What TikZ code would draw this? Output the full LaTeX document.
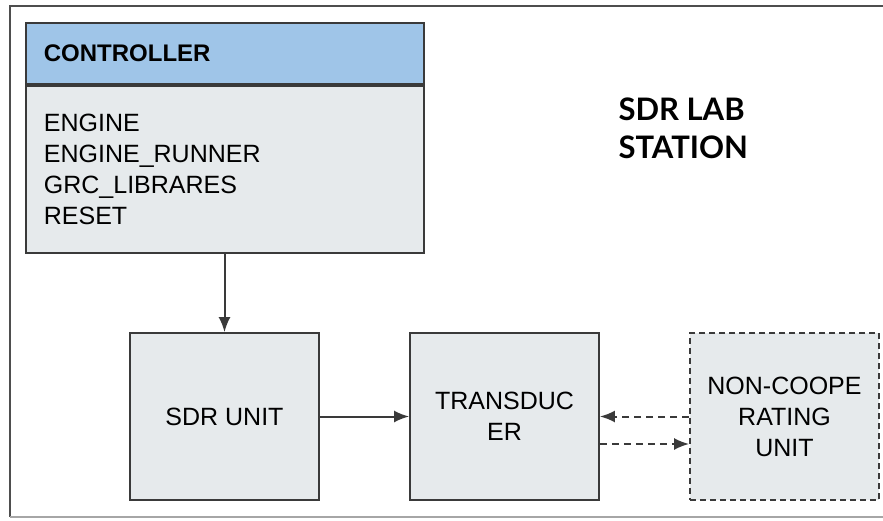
\documentclass[tikz,border=0pt]{standalone}
\usepackage{fontspec}
\setmainfont{Liberation Sans}
\newfontfamily\titlefont{Lato}
\usepackage{tikz}
\usetikzlibrary{positioning,arrows.meta}

\definecolor{headblue}{HTML}{9FC5E8}
\definecolor{boxgray}{HTML}{E6EAEC}
\definecolor{edgegray}{HTML}{3A3A3A}

\begin{document}
\begin{tikzpicture}[x=1pt,y=-1pt,node distance=280pt,on grid,
    block/.style={draw=edgegray,line width=1.8pt,fill=boxgray,
        minimum width=189pt,minimum height=167pt,align=center,
        font=\fontsize{25}{31}\selectfont},
    link/.style={-{Latex[length=15pt,width=12pt]},line width=2pt,draw=edgegray}]
    \useasboundingbox (0,0) rectangle (883,521);
    % station frame, open on the right
    \draw[line width=2pt,draw=edgegray!90] (883,6) -- (10,6) -- (10,517);
    \draw[line width=1.6pt,draw=gray!70] (10,517) -- (883,517);

    % controller: header and module list
    \node[draw=edgegray,line width=1.8pt,fill=headblue,anchor=north west,
        minimum width=398pt,minimum height=61pt,inner xsep=18pt,
        text width=362pt,align=left,font=\fontsize{24}{30}\selectfont\bfseries]
        (ctrlhead) at (25,22) {CONTROLLER};
    \node[draw=edgegray,line width=1.8pt,fill=boxgray,anchor=north,
        minimum width=398pt,minimum height=167pt,inner xsep=18pt,
        text width=362pt,align=left,font=\fontsize{25}{31}\selectfont]
        (ctrlbody) at (ctrlhead.south) {ENGINE\\ENGINE\_RUNNER\\GRC\_LIBRARES\\RESET};

    \node[font=\titlefont\fontsize{31}{38}\selectfont\bfseries,align=left,
        anchor=west] (title) at (615,128) {SDR LAB\\STATION};

    \node[block] (sdr) at (224.5,416.5) {SDR UNIT};
    \node[block] (trans) [right=of sdr] {TRANSDUC\\ER};
    \node[block,dashed,dash pattern=on 6pt off 4pt] (noncoop) [right=of trans]
        {NON-COOPE\\RATING\\UNIT};

    \draw[link] (ctrlbody.south -| sdr.north) -- (sdr.north);
    \draw[link] (sdr) -- (trans);
    \draw[link,dash pattern=on 7pt off 5pt] (noncoop.west) -- (trans.east);
    \draw[link,dash pattern=on 7pt off 5pt] ([yshift=-27.5pt]trans.east)
        -- ([yshift=-27.5pt]noncoop.west);
\end{tikzpicture}
\end{document}
